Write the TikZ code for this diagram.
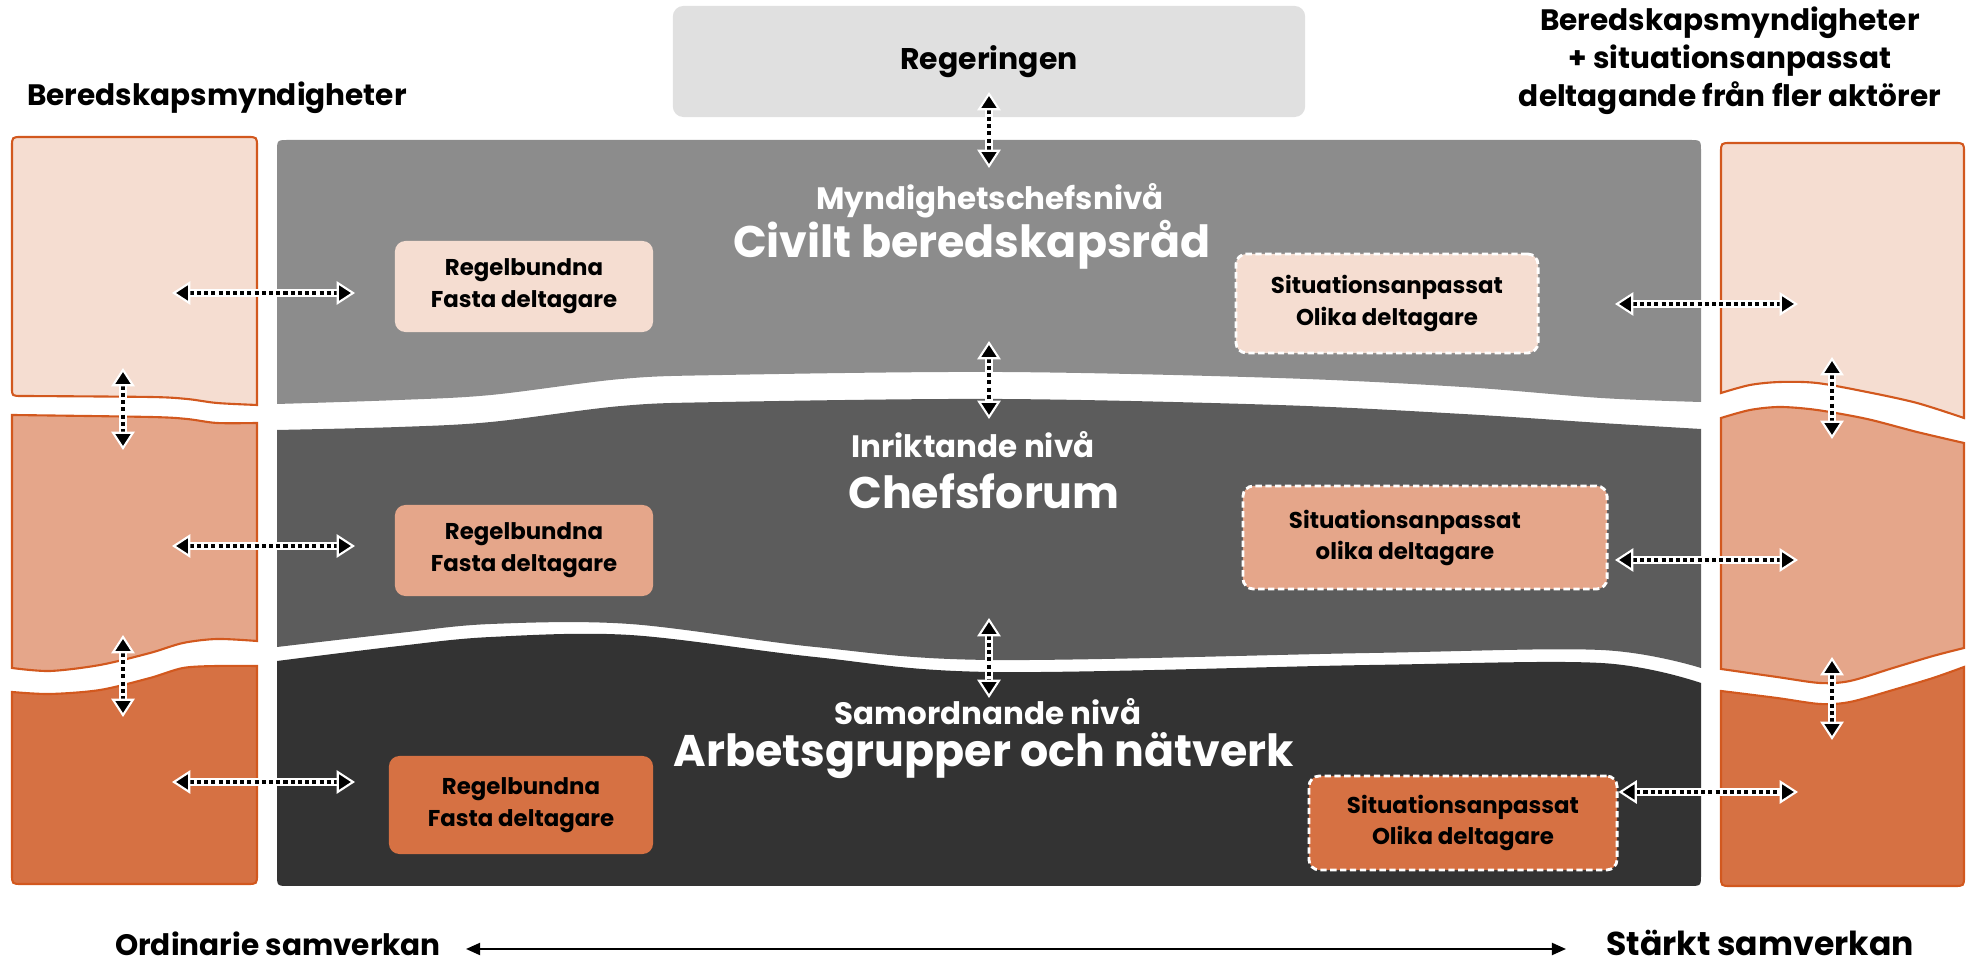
\documentclass[tikz,border=0pt]{standalone}
\usepackage{fontspec}
\setmainfont{Poppins}
\usetikzlibrary{arrows.meta}
\definecolor{oLight}{HTML}{F5DDD1}
\definecolor{oMid}{HTML}{E5A68A}
\definecolor{oDark}{HTML}{D67143}
\definecolor{oEdge}{HTML}{D2581E}
\definecolor{gA}{HTML}{8C8C8C}
\definecolor{gB}{HTML}{5C5C5C}
\definecolor{gC}{HTML}{333333}
\definecolor{gTop}{HTML}{E0E0E0}
\tikzset{
  tipw/.tip={Triangle[length=5.2pt,width=6.6pt,fill=black,color=white,line width=0.6pt]},
  casing/.style={white, line width=2.4pt, shorten <=3pt, shorten >=3pt},
  dotlink/.style={black, line width=1.15pt, dash pattern=on 1.15pt off 0.9pt, tipw-tipw},
  colbox/.style={fill=#1, draw=oEdge, line width=0.6pt},
  fixbox/.style={fill=#1, rounded corners=3pt, inner sep=0pt, align=center,
    font=\fontsize{6.5}{9}\selectfont\bfseries, text=black},
  sitbox/.style={fixbox=#1, draw=white, line width=0.8pt, dash pattern=on 1.8pt off 1pt},
  hdr/.style={font=\fontsize{8.4}{10.8}\selectfont\bfseries, align=center, inner sep=0pt, text=black},
  sublbl/.style={font=\fontsize{8.8}{9}\selectfont\bfseries, inner sep=0pt, text=white},
  title/.style={font=\fontsize{12.6}{15}\selectfont\bfseries, inner sep=0pt, text=white},
}
\newcommand\dottedlink[2]{\draw[casing] (#1) -- (#2); \draw[dotlink] (#1) -- (#2);}
\begin{document}
\begin{tikzpicture}[x=0.01cm,y=-0.01cm]
\useasboundingbox (0,0) rectangle (1966,965);
% ---------- gray panels
\fill[gA] (277,404) -- (277,152) .. controls (277,140) .. (289,140) -- (1689,140) .. controls (1701,140) .. (1701,152)
  -- plot[smooth,tension=0.55] coordinates {(1701,402) (1601,398) (1463,387) (1278,378) (1000,372) (723,375) (621,379) (491,395) (399,400) (277,404)} -- cycle;
\fill[gB] plot[smooth,tension=0.55] coordinates {(277,430) (399,427) (491,422) (621,406) (723,402) (1000,399) (1278,405) (1463,414) (1601,423) (1701,429)}
  -- plot[smooth,tension=0.55] coordinates {(1701,668) (1601,650) (1370,653) (991,660) (815,647) (630,624) (491,624) (399,633) (277,647)} -- cycle;
\fill[gC] plot[smooth,tension=0.55] coordinates {(277,661) (399,646) (491,637) (630,635) (815,657) (991,672) (1370,665) (1601,663) (1701,683)}
  -- (1701,874) .. controls (1701,886) .. (1689,886) -- (289,886) .. controls (277,886) .. (277,874) -- cycle;
% ---------- left column
\filldraw[colbox=oLight] (12,388) -- (12,147) .. controls (12,137) .. (22,137) -- (247,137) .. controls (257,137) .. (257,147)
  -- plot[smooth,tension=0.5] coordinates {(257,405) (217,403) (187,399) (150,397) (22,396)} .. controls (12,396) .. (12,388) -- cycle;
\filldraw[colbox=oMid] plot[smooth,tension=0.5] coordinates {(12,415) (150,417) (187,419) (217,423) (257,423)}
  -- plot[smooth,tension=0.5] coordinates {(257,641) (217,639) (183,643) (150,653) (100,665) (50,671) (12,668)} -- cycle;
\filldraw[colbox=oDark] plot[smooth,tension=0.5] coordinates {(12,692) (50,694) (100,690) (150,678) (183,668) (217,666) (257,666)}
  -- (257,874) .. controls (257,884) .. (247,884) -- (22,884) .. controls (12,884) .. (12,874) -- cycle;
% ---------- right column
\filldraw[colbox=oLight] (1721,393) -- (1721,153) .. controls (1721,143) .. (1731,143) -- (1954,143) .. controls (1964,143) .. (1964,153)
  -- plot[smooth,tension=0.5] coordinates {(1964,418) (1917,403) (1867,392) (1817,383) (1780,382) (1750,385) (1721,393)} -- cycle;
\filldraw[colbox=oMid] plot[smooth,tension=0.5] coordinates {(1721,418) (1750,410) (1780,407) (1817,410) (1867,419) (1917,432) (1964,443)}
  -- plot[smooth,tension=0.5] coordinates {(1964,648) (1933,656) (1893,668) (1850,681) (1820,683) (1777,677) (1721,669)} -- cycle;
\filldraw[colbox=oDark] plot[smooth,tension=0.5] coordinates {(1721,691) (1777,698) (1820,704) (1850,702) (1893,690) (1933,678) (1964,667)}
  -- (1964,876) .. controls (1964,886) .. (1954,886) -- (1731,886) .. controls (1721,886) .. (1721,876) -- cycle;
% ---------- boxes
\node[fixbox=gTop, minimum width=6.32cm, minimum height=1.11cm, font=\fontsize{8.5}{10}\selectfont\bfseries] (reg) at (989,61.5) {Regeringen};
\node[fixbox=oLight, minimum width=2.58cm, minimum height=0.91cm] (r1) at (524,286.5) {Regelbundna\\Fasta deltagare};
\node[fixbox=oMid, minimum width=2.58cm, minimum height=0.91cm] (r2) at (524,550.5) {Regelbundna\\Fasta deltagare};
\node[fixbox=oDark, minimum width=2.64cm, minimum height=0.98cm] (r3) at (521,805) {Regelbundna\\Fasta deltagare};
\node[sitbox=oLight, minimum width=3.02cm, minimum height=0.99cm] (s1) at (1387,303.5) {Situationsanpassat\\Olika deltagare};
\node[sitbox=oMid, minimum width=3.64cm, minimum height=1.03cm] (s2) at (1425,537.5) {};
\node[fixbox=oMid, fill=none] (s2t) at (1405,538) {Situationsanpassat\\olika deltagare};
\node[sitbox=oDark, minimum width=3.08cm, minimum height=0.94cm] (s3) at (1463,823) {Situationsanpassat\\Olika deltagare};
% ---------- panel titles
\node[sublbl] (t1a) at (990,201) {Myndighetschefsnivå};
\node[title] (t1b) at (972,245) {Civilt beredskapsråd};
\node[sublbl] (t2a) at (973,445) {Inriktande nivå};
\node[title] (t2b) at (984,491) {Chefsforum};
\node[sublbl] (t3a) at (988,712) {Samordnande nivå};
\node[title] (t3b) at (984,756) {Arbetsgrupper och nätverk};
% ---------- outer labels
\node[hdr] (lh) at (217,98) {Beredskapsmyndigheter};
\node[hdr] (rh) at (1730,61) {Beredskapsmyndigheter\\+ situationsanpassat\\deltagande från fler aktörer};
\node[hdr] (ord) at (278,944) {Ordinarie samverkan};
\node[hdr, font=\fontsize{9.4}{11}\selectfont\bfseries] (stark) at (1760,943) {Stärkt samverkan};
\coordinate (oa) at (466,949);
\coordinate (sa) at (1566,949);
\draw[line width=0.6pt, {Triangle[length=4pt,width=3.4pt]}-{Triangle[length=4pt,width=3.4pt]}] (oa) -- (sa);
% ---------- connector end points
\coordinate (lh1a) at (172,293); \coordinate (lh1b) at (355,293);
\coordinate (lh2a) at (172,546); \coordinate (lh2b) at (355,546);
\coordinate (lh3a) at (172,782); \coordinate (lh3b) at (355,782);
\coordinate (lv1a) at (123,368); \coordinate (lv1b) at (123,450);
\coordinate (lv2a) at (123,635); \coordinate (lv2b) at (123,717);
\coordinate (cv0a) at (989,92); \coordinate (cv0b) at (989,168);
\coordinate (cv1a) at (989,341); \coordinate (cv1b) at (989,419);
\coordinate (cv2a) at (989,618); \coordinate (cv2b) at (989,698);
\coordinate (rh1a) at (1615,304); \coordinate (rh1b) at (1798,304);
\coordinate (rh2a) at (1615,560); \coordinate (rh2b) at (1798,560);
\coordinate (rh3b) at (1798,792);
\coordinate (rv1a) at (1832,357); \coordinate (rv1b) at (1832,439);
\coordinate (rv2a) at (1832,657); \coordinate (rv2b) at (1832,740);
\coordinate (s3e) at (s3.east |- rh3b);
\dottedlink{lh1a}{lh1b}
\dottedlink{lh2a}{lh2b}
\dottedlink{lh3a}{lh3b}
\dottedlink{lv1a}{lv1b}
\dottedlink{lv2a}{lv2b}
\dottedlink{cv0a}{cv0b}
\dottedlink{cv1a}{cv1b}
\dottedlink{cv2a}{cv2b}
\dottedlink{rh1a}{rh1b}
\dottedlink{rh2a}{rh2b}
\dottedlink{s3e}{rh3b}
\dottedlink{rv1a}{rv1b}
\dottedlink{rv2a}{rv2b}
\end{tikzpicture}
\end{document}
